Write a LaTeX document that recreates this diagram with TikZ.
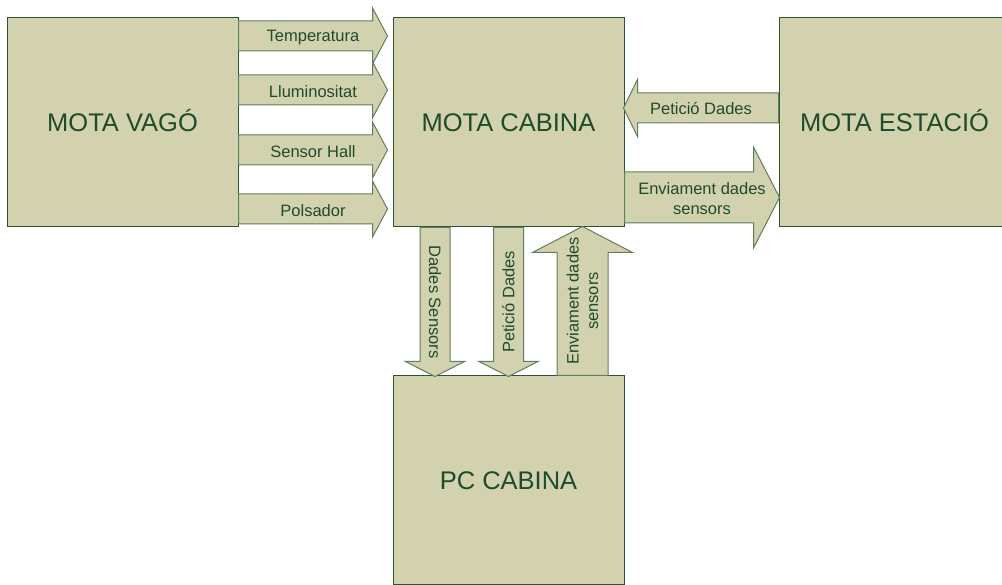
\documentclass[tikz,border=0pt]{standalone}
\usepackage{fontspec}
\setmainfont{Liberation Sans}
\usetikzlibrary{calc}

\definecolor{boxfill}{HTML}{D2D2AE}
\definecolor{boxline}{HTML}{2E5234}
\definecolor{arrowline}{HTML}{5F7D5F}
\definecolor{labeltext}{HTML}{1F4B2B}

\newcommand{\blockarrow}[6]{%
  \draw[arrowshape,shift={(#1)},rotate=#2] (0,-#4) -- ({#3-#6},-#4) -- ({#3-#6},-#5)
    -- (#3,0) -- ({#3-#6},#5) -- ({#3-#6},#4) -- (0,#4) -- cycle;}

\begin{document}
\begin{tikzpicture}[x=1pt,y=1pt]
            \tikzstyle{box}=[draw=boxline, line width=1pt, fill=boxfill, text=labeltext,
                minimum width=231pt, minimum height=209pt, inner sep=0pt,
                text height=18pt, text depth=0pt,
                font=\fontsize{25.5}{30}\selectfont]
            \tikzstyle{arrowshape}=[draw=arrowline, line width=1pt, fill=boxfill, line join=miter]
            \tikzstyle{lbl}=[text=labeltext, inner sep=0pt, align=center,
                font=\fontsize{16.5}{19.5}\selectfont]
            \useasboundingbox (0,0) rectangle (1002,585);
            \node[box] (vago) at (122.5,462.5) {MOTA VAGÓ};
            \node[box] (cabina) at (508.5,462.5) {MOTA CABINA};
            \node[box] (estacio) at (894.5,462.5) {MOTA ESTACIÓ};
            \node[box] (pc) at (508.5,104.5) {PC CABINA};
            \coordinate (temp) at ($(vago.east)+(0,86.5)$);
            \coordinate (llum) at ($(vago.east)+(0,32.5)$);
            \coordinate (hall) at ($(vago.east)+(0,-27.5)$);
            \coordinate (pols) at ($(vago.east)+(0,-86.5)$);
            \coordinate (peticio) at ($(estacio.west)+(0,14.5)$);
            \coordinate (enviament) at ($(cabina.east)+(0,-75)$);
            \coordinate (dadespc) at ($(cabina.south)+(-73.5,0)$);
            \coordinate (peticiopc) at (cabina.south);
            \coordinate (enviamentpc) at ($(pc.north)+(74,0)$);
            \blockarrow{temp}{0}{149}{15}{28}{15}
            \blockarrow{llum}{0}{149}{15}{28}{15}
            \blockarrow{hall}{0}{149}{15}{28}{15}
            \blockarrow{pols}{0}{149}{15}{28}{15}
            \blockarrow{peticio}{180}{155}{15}{28.5}{14}
            \blockarrow{enviament}{0}{155}{25.5}{50.5}{26}
            \blockarrow{dadespc}{-90}{149}{15}{29.5}{15}
            \blockarrow{peticiopc}{-90}{149}{15}{29.5}{15}
            \blockarrow{enviamentpc}{90}{149}{25.5}{50}{26}
            \node[lbl] (ltemp) at ($(temp)+(74.5,-1.5)$) {Temperatura};
            \node[lbl] (lllum) at ($(llum)+(74.5,-1.5)$) {Lluminositat};
            \node[lbl] (lhall) at ($(hall)+(74.5,-1.5)$) {Sensor Hall};
            \node[lbl] (lpols) at ($(pols)+(74.5,-1.5)$) {Polsador};
            \node[lbl] (lpeticio) at ($(peticio)+(-77.5,-1)$) {Petició Dades};
            \node[lbl] (lenviament) at ($(enviament)+(77.5,-1)$) {Enviament dades\\sensors};
            \node[lbl, rotate=-90] (ldadespc) at ($(dadespc)+(0,-74.5)$) {Dades Sensors};
            \node[lbl, rotate=90] (lpeticiopc) at ($(peticiopc)+(0,-74.5)$) {Petició Dades};
            \node[lbl, rotate=90] (lenviamentpc) at ($(enviamentpc)+(0,74.5)$) {Enviament dades\\sensors};
        \end{tikzpicture}
\end{document}
